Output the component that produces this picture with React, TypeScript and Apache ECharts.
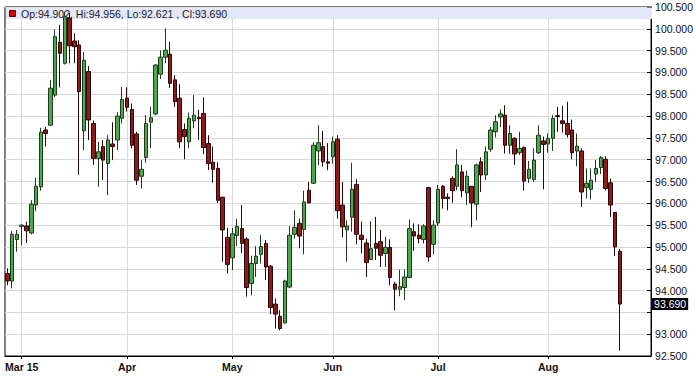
import React, { useEffect, useRef } from "react";
import * as echarts from "echarts";

// Daily OHLC (weekdays, 2015-02-25 .. 2015-08-24)
const opens = [
  94.39, 94.22, 95.17, 95.47, 95.48, 95.32, 95.96, 96.38, 97.68, 97.79,
  98.48, 99.69, 99.21, 100.24, 99.72, 99.63, 97.66, 99.02, 97.83, 97.03,
  97.30, 96.91, 97.36, 97.45, 97.95, 98.41, 98.15, 97.59, 96.62, 97.05,
  97.86, 98.05, 98.96, 99.35, 99.42, 98.83, 98.41, 97.69, 97.41, 97.89,
  97.97, 98.06, 97.37, 96.94, 96.80, 96.14, 95.22, 94.75, 95.26, 95.42,
  95.18, 94.16, 94.62, 94.83, 95.08, 94.56, 93.69, 93.41, 93.26, 94.08,
  95.29, 95.54, 95.40, 96.30, 96.46, 97.20, 97.30, 96.95, 97.07, 97.47,
  95.96, 95.39, 95.68, 96.43, 95.27, 95.09, 94.71, 95.08, 95.12, 94.85,
  94.99, 94.15, 94.03, 94.07, 94.30, 95.35, 95.27, 95.17, 96.36, 95.06,
  95.55, 96.39, 96.14, 96.57, 96.39, 96.72, 96.24, 96.39, 95.98, 96.95,
  96.65, 97.24, 97.64, 97.98, 98.02, 97.33, 97.49, 97.16, 97.28, 96.57,
  96.55, 97.16, 97.43, 97.36, 97.49, 98.01, 97.89, 97.83, 97.68, 97.20,
  97.20, 96.36, 96.32, 96.67, 96.82, 97.01, 96.47, 95.79, 94.902,
];
const closes = [
  94.22, 95.29, 95.29, 95.50, 95.37, 95.98, 96.39, 97.63, 97.60, 98.64,
  99.82, 99.44, 100.28, 99.61, 99.59, 98.56, 99.28, 97.91, 97.03, 97.18,
  96.99, 97.45, 97.30, 98.00, 98.38, 98.20, 97.33, 96.53, 96.78, 97.83,
  97.96, 99.17, 99.35, 99.51, 98.75, 98.33, 97.41, 97.53, 97.95, 98.02,
  97.94, 97.28, 96.91, 96.78, 96.07, 95.39, 94.60, 95.30, 95.47, 95.08,
  94.07, 94.62, 94.79, 95.01, 94.54, 93.61, 93.46, 93.13, 94.22, 95.27,
  95.45, 95.25, 96.03, 96.01, 97.33, 97.39, 96.95, 96.92, 97.41, 95.83,
  95.46, 95.48, 96.32, 95.29, 95.17, 94.64, 94.96, 94.97, 94.81, 94.99,
  94.30, 94.03, 94.09, 94.31, 95.42, 95.25, 95.19, 95.48, 94.77, 95.50,
  96.32, 96.11, 96.11, 96.29, 96.88, 96.29, 96.62, 96.01, 96.88, 96.65,
  97.18, 97.68, 97.87, 98.05, 97.33, 97.60, 97.13, 97.26, 96.51, 96.78,
  96.99, 97.56, 97.35, 97.49, 97.95, 97.99, 97.83, 97.58, 97.16, 97.31,
  96.26, 96.46, 96.53, 96.80, 97.05, 96.34, 95.96, 95.00, 93.690,
];
const lows = [
  94.12, 94.05, 94.89, 95.04, 95.09, 95.29, 95.82, 96.29, 97.30, 97.77,
  98.44, 98.66, 99.18, 99.21, 99.21, 96.65, 97.22, 97.45, 96.88, 96.38,
  96.53, 96.19, 96.99, 97.22, 97.83, 98.10, 97.26, 96.42, 96.34, 96.93,
  97.26, 98.02, 98.85, 99.21, 98.64, 98.21, 97.26, 97.01, 97.26, 97.72,
  97.45, 97.13, 96.76, 96.47, 96.01, 94.66, 94.39, 94.47, 95.02, 94.86,
  93.86, 93.89, 94.31, 94.62, 94.24, 93.46, 93.13, 93.09, 93.24, 94.05,
  95.19, 94.97, 94.83, 96.00, 96.44, 96.88, 96.84, 96.76, 96.91, 95.65,
  95.22, 94.66, 95.35, 95.06, 94.85, 94.31, 94.70, 94.70, 94.54, 94.54,
  94.12, 93.55, 93.87, 93.78, 94.28, 94.91, 95.08, 95.08, 94.66, 94.83,
  95.48, 95.88, 95.84, 96.01, 96.30, 96.14, 95.96, 95.45, 95.61, 96.26,
  96.53, 97.18, 97.51, 97.75, 97.14, 97.13, 96.88, 97.11, 96.29, 96.47,
  96.49, 97.13, 96.32, 97.16, 97.20, 97.64, 97.62, 97.51, 97.01, 96.85,
  95.92, 96.11, 96.09, 96.49, 96.67, 96.30, 95.69, 94.79, 92.621,
];
const highs = [
  94.51, 95.36, 95.39, 95.52, 95.58, 96.07, 96.59, 97.73, 97.75, 98.83,
  99.99, 100.09, 100.39, 100.36, 99.90, 99.74, 99.47, 99.15, 97.90, 97.41,
  97.45, 97.56, 97.86, 98.09, 98.67, 98.66, 98.29, 97.64, 96.99, 98.02,
  98.21, 99.19, 99.51, 100.01, 99.70, 98.94, 98.73, 97.83, 98.08, 98.48,
  98.14, 98.43, 97.56, 97.30, 96.94, 96.15, 95.44, 95.44, 95.64, 95.96,
  95.22, 94.80, 95.02, 95.27, 95.16, 94.58, 93.82, 93.55, 94.25, 95.48,
  95.84, 95.65, 96.29, 96.49, 97.40, 97.79, 97.66, 97.38, 97.53, 97.56,
  96.49, 95.61, 96.93, 96.55, 95.58, 95.19, 95.59, 95.69, 95.39, 95.23,
  95.17, 94.20, 94.48, 94.48, 95.63, 95.54, 95.52, 95.52, 96.38, 95.61,
  96.42, 96.42, 96.23, 96.62, 97.24, 96.88, 96.75, 96.39, 96.91, 97.05,
  97.30, 97.75, 98.02, 98.15, 98.25, 97.79, 97.51, 97.64, 97.30, 96.97,
  97.26, 97.79, 97.53, 97.60, 98.02, 98.21, 98.23, 98.33, 97.92, 97.60,
  97.26, 96.80, 96.80, 96.99, 97.08, 97.08, 96.57, 95.80, 94.956,
];

const monthTickLabels = ["Mar 15", "Apr", "May", "Jun", "Jul", "Aug"];
const monthStartIdx = [3, 25, 47, 68, 90, 113];
const emptySlotsAfter = 6;

// category list: trading weekdays from first to last candle, then empty slots
const categories: string[] = [];
for (let t = Date.UTC(2015, 1, 25); t <= Date.UTC(2015, 7, 24); t += 86400000) {
  const d = new Date(t);
  const wd = d.getUTCDay();
  if (wd !== 0 && wd !== 6) categories.push(d.toISOString().slice(0, 10));
}
for (let k = 0; k < emptySlotsAfter; k++) categories.push("pad" + k);

const ohlc = opens.map((o, i) => [o, closes[i], lows[i], highs[i]]);

export default function App() {
  const ref = useRef<HTMLDivElement>(null);
  useEffect(() => {
    if (!ref.current) return;
    const chart = echarts.init(ref.current, undefined, { renderer: "svg" });
    const isMonth = (i: number) => monthStartIdx.indexOf(i) >= 0;
    const last = opens.length - 1;
    const lastClose = closes[last];
    const legendText =
      "Op:" + opens[last].toFixed(3) +
      ", Hi:" + highs[last].toFixed(3) +
      ", Lo:" + lows[last].toFixed(3) +
      " , Cl:" + lastClose.toFixed(3);
    const font = "'Liberation Sans', Arial, sans-serif";
    chart.setOption({
      animation: false,
      backgroundColor: "#fff",
      textStyle: { fontFamily: font },
      grid: {
        left: 5,
        right: 43,
        top: 7,
        bottom: 20,
        show: true,
        borderColor: "#000",
        borderWidth: 1,
        backgroundColor: "#fff",
      },
      xAxis: {
        type: "category",
        data: categories,
        boundaryGap: true,
        axisLine: { show: true, lineStyle: { color: "#000", width: 1 } },
        axisTick: {
          show: true,
          alignWithLabel: true,
          interval: (i: number) => isMonth(i),
          length: 3,
          lineStyle: { color: "#000" },
        },
        axisLabel: {
          interval: (i: number) => isMonth(i),
          formatter: (_v: string, i: number) => {
            const k = monthStartIdx.indexOf(i);
            return k >= 0 ? monthTickLabels[k] : "";
          },
          fontWeight: "bold",
          fontSize: 10.5,
          color: "#111",
          margin: 5,
          fontFamily: font,
        },
        splitLine: {
          show: true,
          alignWithLabel: true,
          interval: (i: number) => isMonth(i),
          lineStyle: { color: "#d9d9d9", width: 1 },
        },
      },
      yAxis: {
        type: "value",
        position: "right",
        min: 92.5,
        max: 100.5,
        interval: 0.5,
        scale: true,
        axisLine: { show: true, lineStyle: { color: "#000" } },
        axisTick: { show: true, inside: true, length: 4, lineStyle: { color: "#000" } },
        axisLabel: {
          // the tick label hidden behind the last-price marker is not drawn
          formatter: (v: number) => (Math.abs(v - lastClose) < 0.25 ? "" : v.toFixed(3)),
          fontSize: 10.5,
          color: "#111",
          margin: 4,
          fontFamily: font,
        },
        splitLine: { show: true, lineStyle: { color: "#d9d9d9", width: 1 } },
      },
      graphic: [
        {
          type: "rect",
          z: 1,
          shape: { x: 6, y: 7.5, width: 646, height: 11.5 },
          style: { fill: "#E4E6FA" },
          silent: true,
        },
        {
          type: "rect",
          z: 1,
          shape: { x: 9.5, y: 10.5, width: 6, height: 6 },
          style: { fill: "#d40000", stroke: "#5a0000", lineWidth: 1 },
          silent: true,
        },
        {
          type: "text",
          z: 1,
          x: 21,
          y: 14,
          style: {
            text: legendText,
            fill: "#222",
            font: "10.5px " + font,
            verticalAlign: "middle",
            align: "left",
          },
          silent: true,
        },
      ],
      series: [
        {
          type: "candlestick",
          z: 3,
          data: ohlc,
          barWidth: 4,
          itemStyle: {
            color: "#4ea64e",
            color0: "#8e1b1b",
            borderColor: "#1d3a1d",
            borderColor0: "#2a0606",
            borderWidth: 1,
          },
          markLine: {
            silent: true,
            symbol: "none",
            lineStyle: { width: 0, color: "rgba(0,0,0,0)" },
            data: [{ yAxis: lastClose }],
            label: {
              show: true,
              position: "end",
              distance: 1,
              formatter: lastClose.toFixed(3),
              backgroundColor: "#000",
              color: "#fff",
              padding: [1, 2, 0, 2],
              fontSize: 10.5,
              fontFamily: font,
            },
          },
        },
      ],
    });
    return () => chart.dispose();
  }, []);
  return (
    <div
      ref={ref}
      style={{ position: "fixed", left: 0, top: 0, width: 696, height: 376 }}
    />
  );
}
